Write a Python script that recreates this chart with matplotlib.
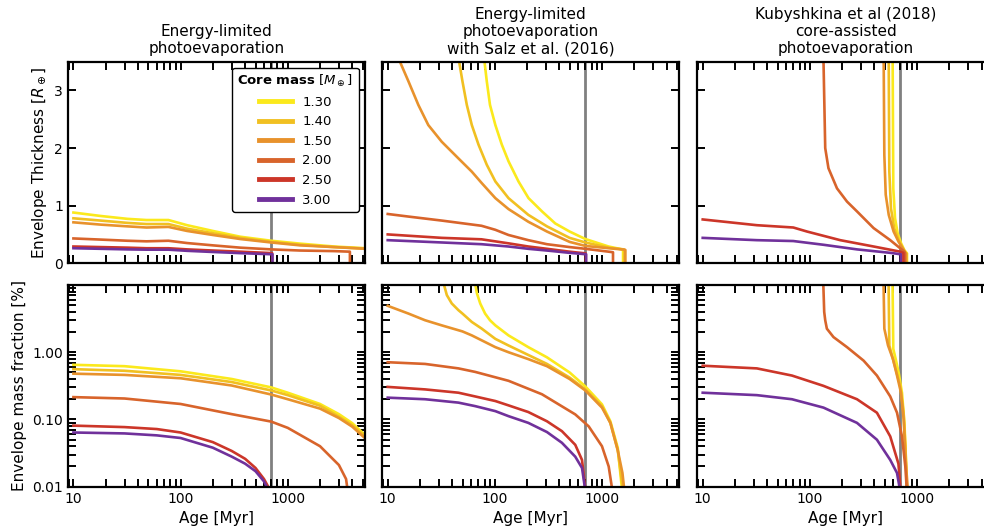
import matplotlib
matplotlib.use('Agg')
import matplotlib.pyplot as plt
from matplotlib.ticker import FuncFormatter, NullFormatter

# --- DATA ---
CORE_MASSES = [1.30, 1.40, 1.50, 2.00, 2.50, 3.00]
REF_AGE = 700  # Myr, grey vertical line

# Energy-limited: envelope thickness [R_earth] -> (age [Myr], value)
EL_THICK = {
    1.30: ([10, 18, 32, 48, 77, 115, 200, 360, 700, 1300, 2700, 5300],
           [0.88, 0.82, 0.77, 0.75, 0.75, 0.66, 0.56, 0.46, 0.39, 0.34, 0.29, 0.26]),
    1.40: ([10, 18, 32, 48, 77, 115, 200, 360, 700, 1300, 2700, 5300],
           [0.78, 0.74, 0.70, 0.68, 0.68, 0.60, 0.52, 0.44, 0.37, 0.32, 0.28, 0.255]),
    1.50: ([10, 18, 32, 48, 77, 115, 200, 360, 700, 1300, 2700, 5300],
           [0.71, 0.67, 0.64, 0.62, 0.63, 0.56, 0.49, 0.42, 0.36, 0.31, 0.28, 0.25]),
    2.00: ([10, 18, 32, 48, 77, 115, 200, 360, 700, 1300, 2700, 3800, 3800],
           [0.43, 0.41, 0.39, 0.38, 0.39, 0.35, 0.31, 0.27, 0.24, 0.22, 0.21, 0.20, 0.0]),
    2.50: ([10, 18, 32, 48, 77, 115, 200, 360, 715, 715],
           [0.29, 0.28, 0.27, 0.26, 0.26, 0.24, 0.22, 0.20, 0.175, 0.0]),
    3.00: ([10, 18, 32, 48, 77, 115, 200, 360, 720, 720],
           [0.26, 0.25, 0.24, 0.235, 0.235, 0.215, 0.195, 0.175, 0.155, 0.0]),
}

# Energy-limited: envelope mass fraction [%]
EL_FRAC = {
    1.30: ([10, 30, 100, 300, 700, 1000, 2000, 3000, 4000, 5300],
           [0.65, 0.62, 0.52, 0.40, 0.30, 0.25, 0.17, 0.12, 0.088, 0.058]),
    1.40: ([10, 30, 100, 300, 700, 1000, 2000, 3000, 4000, 5300],
           [0.56, 0.53, 0.46, 0.36, 0.27, 0.23, 0.16, 0.11, 0.082, 0.055]),
    1.50: ([10, 30, 100, 300, 700, 1000, 2000, 3000, 4000, 5300],
           [0.48, 0.46, 0.41, 0.32, 0.235, 0.20, 0.145, 0.105, 0.078, 0.052]),
    2.00: ([10, 30, 100, 300, 700, 1000, 2000, 3000, 3500, 3800],
           [0.215, 0.205, 0.17, 0.12, 0.093, 0.075, 0.04, 0.021, 0.013, 0.005]),
    2.50: ([10, 30, 60, 100, 200, 300, 400, 500, 600, 680, 715],
           [0.081, 0.077, 0.072, 0.064, 0.046, 0.034, 0.026, 0.019, 0.013, 0.009, 0.003]),
    3.00: ([10, 30, 60, 100, 200, 300, 400, 500, 600, 680, 720],
           [0.064, 0.062, 0.058, 0.053, 0.038, 0.028, 0.022, 0.017, 0.012, 0.008, 0.003]),
}

# Energy-limited with Salz et al. (2016): envelope thickness [R_earth]
SALZ_THICK = {
    1.30: ([79, 80, 84, 90, 101, 116, 134, 166, 206, 275, 366, 498, 698, 1150, 1540, 1570, 1570],
           [3.7, 3.50, 3.16, 2.75, 2.40, 2.06, 1.77, 1.42, 1.13, 0.90, 0.69, 0.55, 0.42, 0.29, 0.24, 0.235, 0.0]),
    1.40: ([46, 46.4, 49.8, 54.7, 60.9, 70.3, 84, 101, 134, 205, 306, 498, 698, 1153, 1590, 1610, 1610],
           [3.7, 3.50, 3.16, 2.75, 2.40, 2.06, 1.71, 1.42, 1.13, 0.84, 0.64, 0.44, 0.36, 0.27, 0.24, 0.235, 0.0]),
    1.50: ([12.5, 13, 15.6, 19.3, 23.9, 31.9, 45.7, 60.9, 75.5, 101, 134, 205, 306, 498, 698, 1153, 1627, 1650, 1650],
           [3.7, 3.50, 3.16, 2.75, 2.40, 2.11, 1.82, 1.59, 1.39, 1.13, 0.94, 0.72, 0.55, 0.37, 0.30, 0.26, 0.235, 0.23, 0.0]),
    2.00: ([10, 15.6, 32, 75, 101, 134, 205, 306, 498, 698, 1153, 1265, 1265],
           [0.855, 0.81, 0.74, 0.65, 0.58, 0.49, 0.40, 0.33, 0.28, 0.25, 0.20, 0.19, 0.0]),
    2.50: ([10, 32, 75, 134, 205, 306, 498, 705, 705],
           [0.50, 0.44, 0.415, 0.345, 0.29, 0.25, 0.20, 0.17, 0.0]),
    3.00: ([10, 32, 75, 134, 205, 306, 498, 710, 710],
           [0.40, 0.36, 0.33, 0.29, 0.25, 0.22, 0.18, 0.155, 0.0]),
}

# Energy-limited with Salz et al. (2016): envelope mass fraction [%]
SALZ_FRAC = {
    1.30: ([65, 68, 73, 81, 90, 101, 134, 205, 306, 498, 698, 998, 1195, 1400, 1560],
           [11, 7.5, 5.3, 3.76, 2.99, 2.51, 1.78, 1.19, 0.84, 0.50, 0.31, 0.168, 0.094, 0.038, 0.007]),
    1.40: ([33, 35.6, 39.6, 45.7, 49.8, 60.9, 75.5, 101, 134, 205, 306, 498, 698, 998, 1195, 1400, 1600],
           [11, 7.08, 5.31, 4.22, 3.76, 2.82, 2.24, 1.58, 1.26, 0.91, 0.67, 0.42, 0.28, 0.158, 0.089, 0.035, 0.007]),
    1.50: ([10, 15.6, 22.3, 31.9, 49.8, 60.9, 75.5, 101, 134, 205, 306, 498, 698, 998, 1195, 1400, 1549, 1640],
           [4.9, 3.76, 2.99, 2.51, 2.04, 1.78, 1.50, 1.19, 1.0, 0.79, 0.62, 0.40, 0.27, 0.15, 0.089, 0.035, 0.016, 0.007]),
    2.00: ([10, 22.3, 45.7, 65.4, 134, 275, 562, 750, 998, 1153, 1275],
           [0.71, 0.67, 0.575, 0.51, 0.376, 0.237, 0.119, 0.079, 0.040, 0.02, 0.007]),
    2.50: ([10, 22.3, 45.7, 65.4, 101, 134, 205, 306, 422, 562, 650, 712],
           [0.305, 0.28, 0.25, 0.22, 0.188, 0.162, 0.129, 0.094, 0.067, 0.042, 0.025, 0.007]),
    3.00: ([10, 22.3, 45.7, 65.4, 101, 134, 205, 306, 422, 562, 650, 712],
           [0.211, 0.2, 0.178, 0.158, 0.133, 0.112, 0.089, 0.065, 0.045, 0.028, 0.019, 0.007]),
}

# Kubyshkina et al (2018): envelope thickness [R_earth]
KUB_THICK = {
    1.30: ([590, 600, 623, 659, 708, 760, 806, 806],
           [4.0, 1.30, 0.78, 0.52, 0.35, 0.23, 0.17, 0.0]),
    1.40: ([542, 551, 571, 613, 673, 750, 782, 795, 795],
           [4.0, 1.59, 0.95, 0.60, 0.40, 0.23, 0.17, 0.165, 0.0]),
    1.50: ([486, 495, 510, 544, 604, 673, 750, 782, 790, 790],
           [4.0, 1.88, 1.19, 0.84, 0.55, 0.37, 0.23, 0.17, 0.165, 0.0]),
    2.00: ([133, 134, 139, 149, 179, 222, 275, 393, 562, 750, 770, 770],
           [4.0, 3.5, 2.0, 1.65, 1.30, 1.07, 0.90, 0.61, 0.40, 0.21, 0.19, 0.0]),
    2.50: ([10, 32, 70, 94, 192, 393, 698, 745, 745],
           [0.76, 0.66, 0.62, 0.55, 0.40, 0.29, 0.20, 0.18, 0.0]),
    3.00: ([10, 32, 70, 134, 275, 562, 705, 705],
           [0.44, 0.40, 0.385, 0.32, 0.24, 0.18, 0.155, 0.0]),
}

# Kubyshkina et al (2018): envelope mass fraction [%]
KUB_FRAC = {
    1.30: ([590, 600, 632, 673, 723, 762, 788, 806],
           [12, 1.12, 0.79, 0.50, 0.25, 0.089, 0.025, 0.007]),
    1.40: ([542, 551, 596, 632, 695, 748, 778, 810],
           [12, 1.26, 0.79, 0.56, 0.32, 0.126, 0.04, 0.007]),
    1.50: ([486, 495, 536, 596, 650, 708, 750, 782, 830],
           [12, 2.24, 1.26, 0.79, 0.45, 0.25, 0.10, 0.025, 0.007]),
    2.00: ([133, 136, 139, 144, 166, 222, 317, 422, 562, 650, 723, 777, 810],
           [12, 3.98, 2.99, 2.24, 1.68, 1.19, 0.75, 0.45, 0.22, 0.126, 0.056, 0.02, 0.007]),
    2.50: ([10, 32, 68, 134, 275, 422, 562, 670, 712],
           [0.63, 0.575, 0.45, 0.316, 0.20, 0.126, 0.056, 0.022, 0.007]),
    3.00: ([10, 32, 68, 134, 275, 422, 562, 650, 712],
           [0.25, 0.23, 0.20, 0.15, 0.089, 0.05, 0.025, 0.016, 0.007]),
}

TITLES = ["Energy-limited\nphotoevaporation",
          "Energy-limited\nphotoevaporation\nwith Salz et al. (2016)",
          "Kubyshkina et al (2018)\ncore-assisted\nphotoevaporation"]
THICK_DATA = [EL_THICK, SALZ_THICK, KUB_THICK]
FRAC_DATA = [EL_FRAC, SALZ_FRAC, KUB_FRAC]

# --- STYLE ---
COLORS = ['#fbe91c', '#f1c021', '#e8922c', '#d8642b', '#cc3629', '#70319b']
LINE_W = 1.9
W, H = 984, 530
COL_LEFT = [68, 382.3, 697.3]   # px
COL_W = 296.5
TOP_ROW = (263.2, 201.5)        # (bottom px from top, height px)
BOT_ROW = (486.7, 201.7)

plt.rcParams['font.family'] = 'DejaVu Sans'

fig = plt.figure(figsize=(W / 100, H / 100), dpi=100, facecolor='white')


def make_axes(col, row):
    bottom_px, height_px = row
    rect = [COL_LEFT[col] / W, (H - bottom_px) / H, COL_W / W, height_px / H]
    ax = fig.add_axes(rect)
    ax.set_xscale('log')
    ax.set_xlim(8.9, 5200)
    for spine in ax.spines.values():
        spine.set_linewidth(1.6)
    ax.tick_params(which='both', direction='in', top=True, right=True,
                   length=6, width=1.4, labelsize=10)
    ax.xaxis.set_major_formatter(FuncFormatter(lambda v, p: f"{v:.0f}"))
    ax.xaxis.set_minor_formatter(NullFormatter())
    ax.axvline(REF_AGE, color='#808080', lw=2, zorder=1)
    return ax


legend_lines = []
for col in range(3):
    # --- Top row: envelope thickness ---
    ax_t = make_axes(col, TOP_ROW)
    ax_t.set_ylim(0, 3.5)
    ax_t.set_yticks([0, 1, 2, 3])
    ax_t.tick_params(labelbottom=False, labelleft=(col == 0))
    ax_t.set_title(TITLES[col], fontsize=11)
    for mass, color in zip(CORE_MASSES, COLORS):
        ages, vals = THICK_DATA[col][mass]
        line, = ax_t.plot(ages, vals, color=color, lw=LINE_W, zorder=2,
                          label=f"{mass:.2f}")
        if col == 0:
            legend_lines.append(line)
    if col == 0:
        ax_t.set_ylabel(r"Envelope Thickness [$R_\oplus$]", fontsize=11)
        leg = ax_t.legend(handles=legend_lines,
                          title=r"$\bf{Core\ mass}$ [$M_\oplus$]",
                          loc='upper right', fontsize=9.5, title_fontsize=9.5,
                          frameon=True, fancybox=True, framealpha=1,
                          edgecolor='black', handlelength=2.5,
                          labelspacing=0.5, borderaxespad=0.45)
        leg.get_frame().set_linewidth(1.0)
        leg.set_zorder(5)
        for l in leg.get_lines():
            l.set_linewidth(3.5)

    # --- Bottom row: envelope mass fraction ---
    ax_b = make_axes(col, BOT_ROW)
    ax_b.set_yscale('log')
    ax_b.set_ylim(0.01, 10)
    ax_b.set_yticks([0.01, 0.1, 1])
    ax_b.yaxis.set_major_formatter(FuncFormatter(lambda v, p: f"{v:.2f}"))
    ax_b.yaxis.set_minor_formatter(NullFormatter())
    ax_b.tick_params(labelleft=(col == 0))
    ax_b.set_xlabel("Age [Myr]", fontsize=11)
    for mass, color in zip(CORE_MASSES, COLORS):
        ages, vals = FRAC_DATA[col][mass]
        ax_b.plot(ages, vals, color=color, lw=LINE_W, zorder=2)
    if col == 0:
        ax_b.set_ylabel("Envelope mass fraction [%]", fontsize=11)

fig.savefig('out.png', dpi=100)
